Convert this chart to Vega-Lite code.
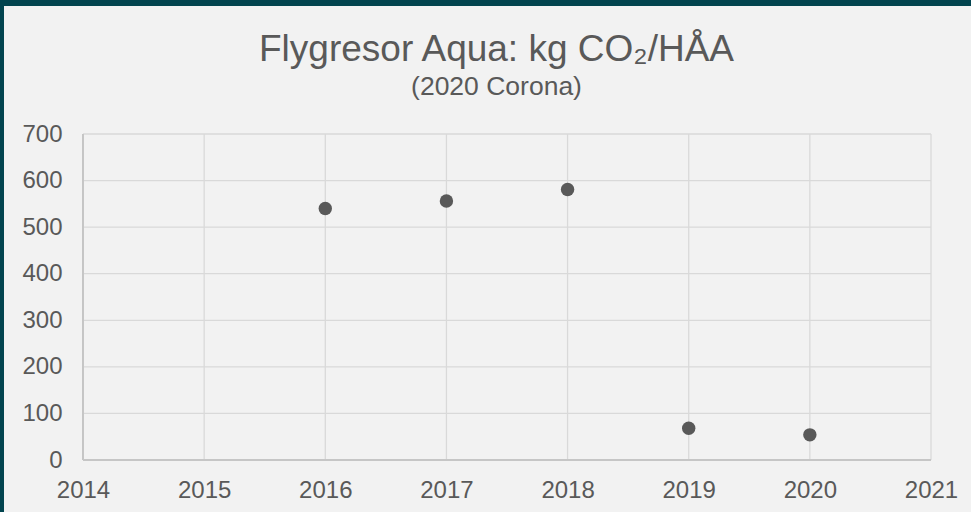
{
  "$schema": "https://vega.github.io/schema/vega-lite/v6.json",
  "width": 967,
  "height": 506,
  "autosize": {"type": "none"},
  "padding": {"left": 4, "top": 6, "right": 0, "bottom": 0},
  "background": "#02444f",
  "config": {
    "view": {"fill": "#f2f2f2", "stroke": null},
    "font": "Liberation Sans"
  },
  "title": {
    "text": "Flygresor Aqua: kg CO₂/HÅA",
    "subtitle": "(2020 Corona)",
    "anchor": "middle",
    "frame": "group",
    "font": "Liberation Sans",
    "fontSize": 37,
    "fontWeight": "normal",
    "color": "#595959",
    "subtitleFont": "Liberation Sans",
    "subtitleFontSize": 26.5,
    "subtitleColor": "#595959",
    "subtitlePadding": 5,
    "offset": -95,
    "dx": 9
  },
  "datasets": {
    "years": [{"year": 2015}, {"year": 2016}, {"year": 2017}, {"year": 2018}, {"year": 2019}, {"year": 2020}, {"year": 2021}],
    "levels": [{"value": 100}, {"value": 200}, {"value": 300}, {"value": 400}, {"value": 500}, {"value": 600}, {"value": 700}],
    "points": [
      {"year": 2016, "value": 540},
      {"year": 2017, "value": 556},
      {"year": 2018, "value": 581},
      {"year": 2019, "value": 68},
      {"year": 2020, "value": 54}
    ]
  },
  "layer": [
    {
      "data": {"name": "years"},
      "mark": {"type": "rule", "color": "#d9d9d9", "strokeWidth": 1.3},
      "encoding": {
        "x": {"field": "year", "type": "quantitative", "scale": {"domain": [2013.3479, 2021.3302], "nice": false, "zero": false}},
        "y": {"datum": 0, "type": "quantitative", "scale": {"domain": [-111.656, 974.847], "nice": false, "zero": false}},
        "y2": {"datum": 700}
      }
    },
    {
      "data": {"name": "levels"},
      "mark": {"type": "rule", "color": "#d9d9d9", "strokeWidth": 1.3},
      "encoding": {
        "y": {"field": "value", "type": "quantitative"},
        "x": {"datum": 2014, "type": "quantitative"},
        "x2": {"datum": 2021}
      }
    },
    {
      "data": {"name": "points"},
      "mark": {"type": "rule", "color": "#c6c6c6", "strokeWidth": 1.3},
      "encoding": {
        "x": {"datum": 2014, "type": "quantitative"},
        "y": {"datum": 0, "type": "quantitative"},
        "y2": {"datum": 700}
      }
    },
    {
      "data": {"name": "points"},
      "mark": {"type": "rule", "color": "#c6c6c6", "strokeWidth": 1.3},
      "encoding": {
        "y": {"datum": 0, "type": "quantitative"},
        "x": {"datum": 2014, "type": "quantitative"},
        "x2": {"datum": 2021}
      }
    },
    {
      "data": {"name": "points"},
      "mark": {"type": "circle", "size": 180, "color": "#595959", "opacity": 1},
      "encoding": {
        "x": {
          "field": "year",
          "type": "quantitative",
          "axis": {
            "title": null,
            "orient": "bottom",
            "offset": -52,
            "values": [2014, 2015, 2016, 2017, 2018, 2019, 2020, 2021],
            "format": "d",
            "domain": false,
            "ticks": false,
            "tickSize": 0,
            "grid": false,
            "labelPadding": 18,
            "labelFont": "Liberation Sans",
            "labelFontSize": 24,
            "labelColor": "#595959",
            "labelOverlap": false,
            "labelFlush": false
          }
        },
        "y": {
          "field": "value",
          "type": "quantitative",
          "axis": {
            "title": null,
            "orient": "left",
            "offset": -79,
            "values": [0, 100, 200, 300, 400, 500, 600, 700],
            "format": "d",
            "domain": false,
            "ticks": false,
            "tickSize": 0,
            "grid": false,
            "labelPadding": 21,
            "labelFont": "Liberation Sans",
            "labelFontSize": 24,
            "labelColor": "#595959",
            "labelOverlap": false,
            "labelFlush": false
          }
        }
      }
    }
  ]
}
